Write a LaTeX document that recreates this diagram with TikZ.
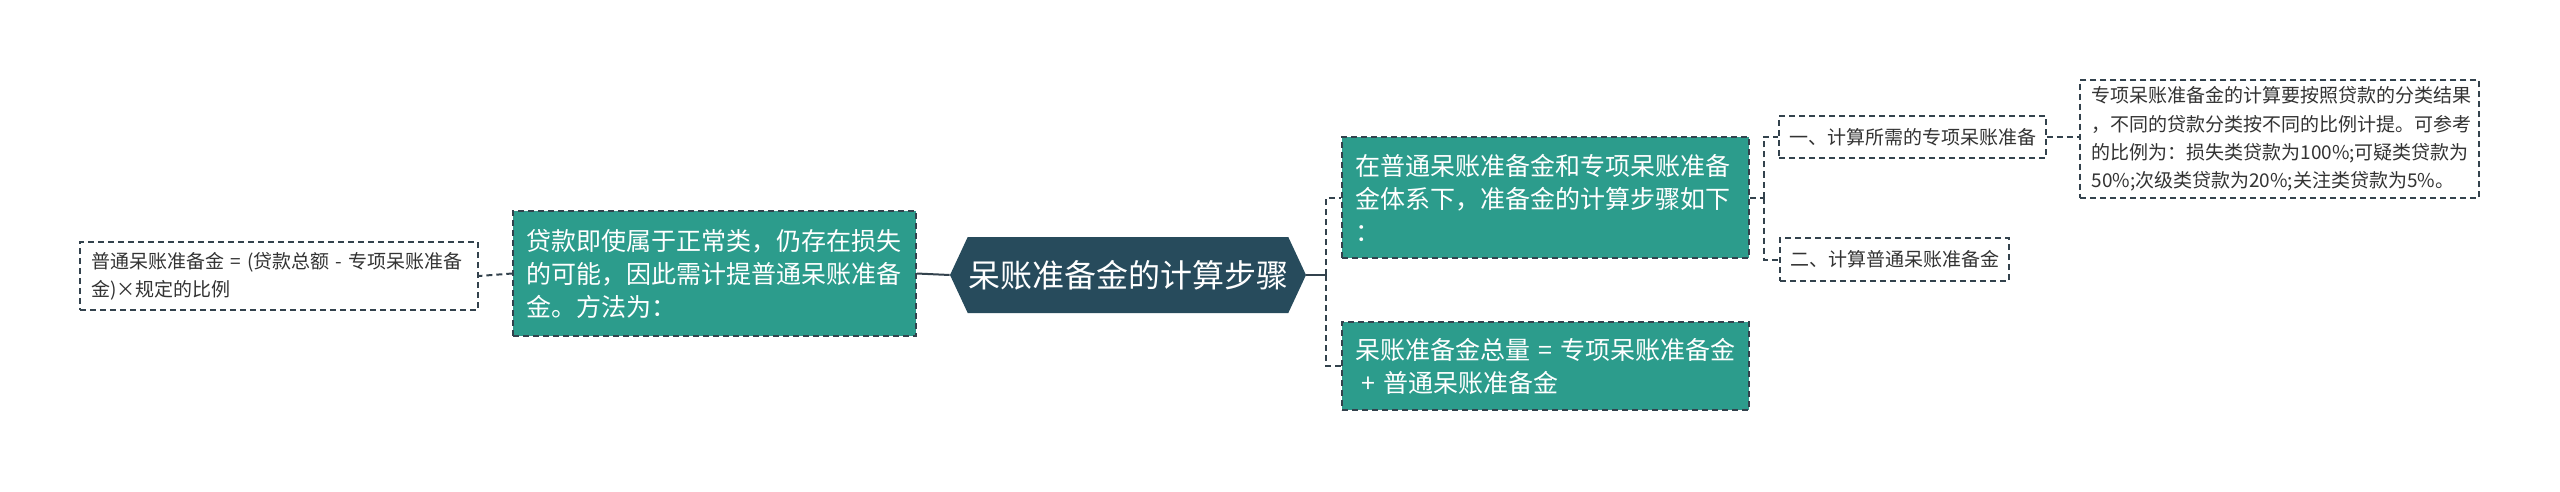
\documentclass[tikz,border=0pt]{standalone}
\usepackage{fontspec}
\setmainfont{Noto Sans CJK SC}
\usepackage{xcolor}
\usepackage{tikz}
\usetikzlibrary{positioning, shapes.symbols}

\definecolor{hubcol}{HTML}{274B5C}
\definecolor{tealcol}{HTML}{2C9C8C}
\definecolor{linkcol}{HTML}{33424D}

\begin{document}
\begin{tikzpicture}[x=0.5pt,y=-0.5pt]
	\tikzstyle{hub}=[signal, signal to=east and west, signal pointer angle=130, fill=hubcol, text=white, minimum width=178pt, minimum height=38pt, inner sep=0pt, font=\fontsize{16}{20}\selectfont]
	\tikzstyle{topic}=[fill=tealcol, draw=linkcol, dashed, dash pattern=on 3pt off 2pt, line width=0.75pt, text=white, align=left, inner xsep=6.5pt, font=\fontsize{12.5}{16.5}\selectfont]
	\tikzstyle{leaf}=[fill=white, draw=linkcol, dashed, dash pattern=on 3pt off 2pt, line width=0.75pt, text=black!80, align=left, inner xsep=5pt, font=\fontsize{9.5}{14.2}\selectfont]
	\tikzstyle{link}=[draw=linkcol, line width=1pt]
	\tikzstyle{dlink}=[draw=linkcol, line width=1pt, dash pattern=on 3pt off 2pt]
	\fill[white] (0,0) rectangle (2560,492);
	% centre
	\node[hub](root) at (1128,275){呆账准备金的计算步骤};
	% left branch
	\node[topic, text width=188.5pt, minimum height=62.5pt](normal) at (714.5,273.5){贷款即使属于正常类，仍存在损失\\的可能，因此需计提普通呆账准备\\金。方法为：};
	\node[leaf, text width=188pt, minimum height=34pt, inner xsep=5.5pt](formula) at (279,276){普通呆账准备金 = (贷款总额 - 专项呆账准备\\金)×规定的比例};
	% right branch
	\node[topic, text width=190.5pt, minimum height=60.5pt](steps) at (1545.5,197.5){在普通呆账准备金和专项呆账准备\\金体系下，准备金的计算步骤如下\\：};
	\node[topic, text width=190.5pt, minimum height=44pt](total) at (1545.5,366){呆账准备金总量 = 专项呆账准备金\\\hspace{0.25em}+ 普通呆账准备金};
	\node[leaf, minimum height=21pt](step1) at (1912.5,137){一、计算所需的专项呆账准备};
	\node[leaf, minimum height=21.5pt](step2) at (1894.5,259.5){二、计算普通呆账准备金};
	\node[leaf, text width=188pt, minimum height=59pt, inner xsep=5.75pt](ratio) at (2279.5,139){专项呆账准备金的计算要按照贷款的分类结果\\，不同的贷款分类按不同的比例计提。可参考\\的比例为：损失类贷款为100\%;可疑类贷款为\\50\%;次级类贷款为20\%;关注类贷款为5\%。};
	% connectors
	\path[link] (root.west) edge (normal.east);
	\path[dlink] (normal.west) edge (formula.east);
	\draw[link] (root.east) -- ++(20,0) coordinate (rj);
	\draw[dlink] (rj) |- (steps.west);
	\draw[dlink] (rj) |- (total.west);
	\draw[dlink] (steps.east) -- ++(14,0) coordinate (sj);
	\draw[dlink] (sj) |- (step1.west);
	\draw[dlink] (sj) |- (step2.west);
	\path[dlink] (step1.east) edge (ratio.west |- step1.east);
\end{tikzpicture}
\end{document}
